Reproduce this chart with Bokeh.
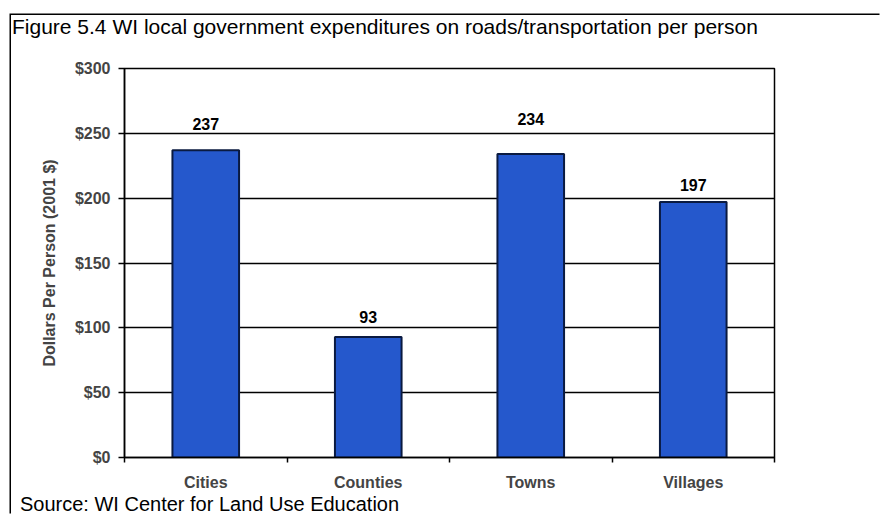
from bokeh.plotting import figure
from bokeh.layouts import column
from bokeh.models import (ColumnDataSource, FixedTicker, NumeralTickFormatter, Range1d,
                          LabelSet, Div)
from bokeh.core.properties import value
from bokeh.embed import file_html
from bokeh.resources import INLINE

categories = ["Cities", "Counties", "Towns", "Villages"]
values = [237, 93, 234, 197]
y_ticks = [0, 50, 100, 150, 200, 250, 300]
title_text = "Figure 5.4 WI local government expenditures on roads/transportation per person"
source_text = "Source: WI Center for Land Use Education"

# pixel offsets of the value labels above their bars (styling, as placed in the original)
label_offsets = [26, 20, 35, 17]

FONT = "Liberation Sans"
x_pos = [i + 0.5 for i in range(len(categories))]
src = ColumnDataSource(dict(x=x_pos, top=values, label=[str(v) for v in values],
                            off=label_offsets))

p = figure(width=870, height=440, output_backend="svg", toolbar_location=None,
           x_range=Range1d(0, len(categories)), y_range=Range1d(0, 300),
           min_border_left=113, min_border_right=107, min_border_top=15, min_border_bottom=35)
p.background_fill_color = "white"
p.border_fill_color = "white"
p.outline_line_color = "black"
p.outline_line_width = 1.5

p.vbar(x="x", top="top", width=0.41, source=src, fill_color="#2558cc",
       line_color="#0a1a40", line_width=2)

p.add_layout(LabelSet(x="x", y="top", text="label", source=src, y_offset="off",
                      text_align="center", text_baseline="middle",
                      text_font=value(FONT), text_font_size="16px",
                      text_font_style="bold", text_color="black"))

# y axis
p.yaxis.ticker = FixedTicker(ticks=y_ticks)
p.yaxis.formatter = NumeralTickFormatter(format="$0")
p.yaxis.major_label_text_font = FONT
p.yaxis.major_label_text_font_style = "bold"
p.yaxis.major_label_text_font_size = "16px"
p.yaxis.major_tick_out = 6
p.yaxis.major_tick_in = 0
p.yaxis.minor_tick_line_color = None
p.yaxis.axis_line_width = 1.5
p.yaxis.major_tick_line_width = 1.5
p.yaxis.major_label_standoff = 8
p.yaxis.axis_label = "Dollars Per Person (2001 $)"
p.yaxis.axis_label_text_font = FONT
p.yaxis.axis_label_text_font_style = "bold"
p.yaxis.axis_label_text_font_size = "16px"
p.yaxis.axis_label_standoff = 14

# x axis
p.xaxis.ticker = FixedTicker(ticks=x_pos, minor_ticks=list(range(len(categories) + 1)))
p.xaxis.major_label_overrides = {x: c for x, c in zip(x_pos, categories)}
p.xaxis.major_tick_line_color = None
p.xaxis.minor_tick_out = 5
p.xaxis.minor_tick_in = 0
p.xaxis.minor_tick_line_width = 1.5
p.xaxis.axis_line_width = 1.5
p.xaxis.major_label_text_font = FONT
p.xaxis.major_label_text_font_style = "bold"
p.xaxis.major_label_text_font_size = "16px"
p.xaxis.major_label_standoff = 10

p.xgrid.grid_line_color = None
p.ygrid.ticker = FixedTicker(ticks=y_ticks)
p.ygrid.grid_line_color = "black"
p.ygrid.grid_line_width = 1.3

text_style = {"font-family": FONT, "font-size": "21px", "line-height": "24px",
              "color": "black", "padding-left": "1px", "white-space": "nowrap"}
title_div = Div(text=title_text, width=870, height=38, margin=0, styles=text_style)
source_div = Div(text=source_text, width=870, height=22, margin=0,
                 styles=dict(text_style, **{"padding-left": "9px", "font-size": "20px",
                                            "line-height": "22px"}))

layout = column(title_div, p, source_div, spacing=0)
layout.styles = {"margin-left": "11px", "margin-top": "15px",
                 "box-shadow": "-1.5px -1.5px 0 0 black"}

open("out.html", "w").write(file_html(layout, INLINE))
